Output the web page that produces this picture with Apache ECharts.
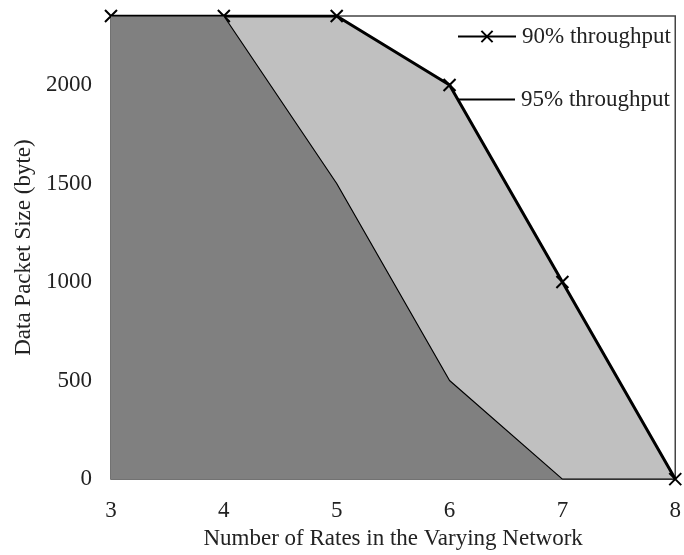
<!DOCTYPE html>
<html><head><meta charset="utf-8">
<script src="https://cdn.jsdelivr.net/npm/echarts@6/dist/echarts.min.js"></script>
<style>html,body{margin:0;padding:0;background:#fff}#c{width:684px;height:555px}</style>
</head><body><div id="c"></div>
<script>
const rates = [3, 4, 5, 6, 7, 8];
const thr90 = [2350, 2350, 2350, 2000, 1000, 0];
const thr95 = [2350, 2350, 1500, 500, 0, 0];
const yTicks = [0, 500, 1000, 1500, 2000];
const seriesNames = ['90% throughput', '95% throughput'];

const font = 'Liberation Serif';
const fs = 23;
const xMark = 'path://M0,0L10,10M10,0L0,10';
const chart = echarts.init(document.getElementById('c'));
chart.setOption({
  animation: false,
  textStyle: {fontFamily: font},
  grid: {left: 111, right: 4, top: 16, bottom: 74, show: true, borderColor: '#444', borderWidth: 1.5, backgroundColor: '#fff'},
  xAxis: {
    type: 'value', min: 3, max: 8, interval: 1,
    name: 'Number of Rates in the Varying Network', nameLocation: 'middle', nameGap: 45,
    nameTextStyle: {fontFamily: font, fontSize: fs, color: '#222'},
    axisLine: {show: false}, axisTick: {show: false}, splitLine: {show: false},
    axisLabel: {fontFamily: font, fontSize: fs, color: '#222', margin: 20}
  },
  yAxis: {
    type: 'value', min: 0, max: 2350, interval: 500,
    name: 'Data Packet Size (byte)', nameLocation: 'middle', nameGap: 76,
    nameTextStyle: {fontFamily: font, fontSize: fs, color: '#222'},
    axisLine: {show: false}, axisTick: {show: false}, splitLine: {show: false},
    axisLabel: {fontFamily: font, fontSize: fs, color: '#222', margin: 19, showMaxLabel: false,
      formatter: v => yTicks.includes(v) ? String(v) : ''}
  },
  legend: [
    {data: [{name: seriesNames[0]}], left: 457, top: 25, padding: 0, itemWidth: 58, itemHeight: 14,
      textStyle: {fontFamily: font, fontSize: fs, color: '#222', padding: [0, 0, 0, 1]}},
    {data: [{name: seriesNames[1], icon: 'rect', itemStyle: {color: '#000'}}], left: 457, top: 88, padding: 0, itemWidth: 58, itemHeight: 2,
      textStyle: {fontFamily: font, fontSize: fs, color: '#222', padding: [0, 0, 0, 1]}}
  ],
  series: [
    {
      name: seriesNames[0], type: 'line', data: rates.map((r, i) => [r, thr90[i]]),
      lineStyle: {color: '#000', width: 3},
      areaStyle: {color: '#c0c0c0', opacity: 1},
      symbol: xMark, symbolSize: 12, showSymbol: true,
      itemStyle: {color: '#000', borderColor: '#000', borderWidth: 2},
      z: 2
    },
    {
      name: seriesNames[1], type: 'line', data: rates.map((r, i) => [r, thr95[i]]),
      lineStyle: {color: '#000', width: 1.2},
      areaStyle: {color: '#808080', opacity: 1},
      symbol: 'none', showSymbol: false,
      itemStyle: {color: '#000'},
      z: 3
    }
  ]
});
</script></body></html>
